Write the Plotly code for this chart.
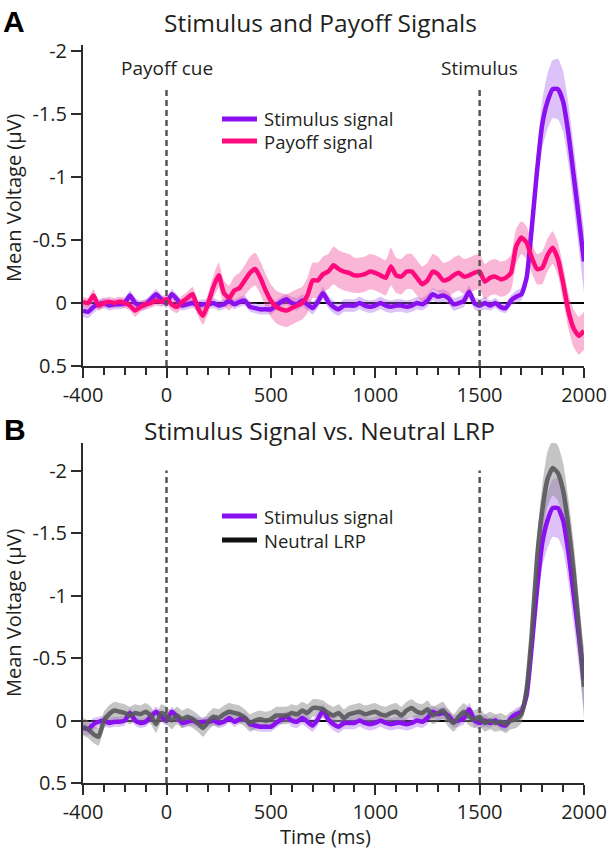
import plotly.graph_objects as go

# ---------------- data ----------------
time_ms = list(range(-400, 2001, 25))

stimulus_signal = [
    0.06, 0.07, 0.03, 0.01, 0.00, 0.02, 0.01, 0.01,
    0.00, -0.06, 0.00, 0.02, 0.01, -0.03, -0.07, -0.03,
    0.00, -0.07, -0.03, 0.02, 0.01, 0.00, 0.02, 0.01,
    0.01, 0.00, 0.02, 0.01, -0.02, 0.01, -0.01, -0.02,
    0.03, 0.04, 0.05, 0.05, 0.05, 0.02, -0.01, -0.03,
    0.00, 0.01, -0.02, 0.01, 0.04, -0.01, -0.08, -0.01,
    0.03, 0.05, 0.02, 0.02, 0.02, 0.00, 0.02, 0.03,
    0.02, 0.00, 0.02, 0.03, 0.02, 0.02, 0.03, 0.02,
    0.00, 0.01, -0.02, -0.07, -0.05, -0.06, -0.04, 0.01,
    0.00, -0.02, -0.09, 0.00, 0.02, 0.00, 0.02, 0.00,
    0.03, 0.04, -0.02, -0.05, -0.07, -0.20, -0.60, -1.05,
    -1.42, -1.60, -1.70, -1.70, -1.60, -1.35, -1.02, -0.68,
    -0.33,
]
stimulus_se = [
    0.05, 0.05, 0.05, 0.04, 0.04, 0.04, 0.04, 0.04,
    0.04, 0.04, 0.04, 0.04, 0.04, 0.04, 0.04, 0.04,
    0.04, 0.04, 0.04, 0.04, 0.04, 0.04, 0.04, 0.04,
    0.04, 0.04, 0.04, 0.04, 0.04, 0.04, 0.04, 0.04,
    0.04, 0.04, 0.04, 0.04, 0.04, 0.04, 0.04, 0.04,
    0.05, 0.05, 0.05, 0.05, 0.05, 0.05, 0.05, 0.05,
    0.05, 0.05, 0.05, 0.05, 0.05, 0.05, 0.05, 0.05,
    0.05, 0.05, 0.05, 0.05, 0.05, 0.05, 0.05, 0.05,
    0.05, 0.05, 0.05, 0.05, 0.05, 0.05, 0.05, 0.05,
    0.05, 0.05, 0.05, 0.05, 0.05, 0.05, 0.04, 0.04,
    0.04, 0.04, 0.04, 0.05, 0.05, 0.07, 0.10, 0.15,
    0.19, 0.22, 0.23, 0.24, 0.24, 0.24, 0.24, 0.24,
    0.25,
]
payoff_signal = [
    -0.01, 0.00, -0.06, 0.02, 0.00, -0.01, 0.00, -0.01,
    0.00, 0.02, 0.06, 0.03, 0.01, 0.00, -0.02, -0.01,
    -0.03, 0.01, 0.03, -0.01, -0.04, -0.07, 0.04, 0.10,
    0.00, -0.13, -0.22, -0.08, -0.04, -0.10, -0.12, -0.18,
    -0.24, -0.27, -0.20, -0.10, -0.02, 0.03, 0.05, 0.06,
    0.04, 0.02, 0.00, -0.06, -0.18, -0.18, -0.23, -0.25,
    -0.30, -0.27, -0.25, -0.24, -0.22, -0.22, -0.23, -0.25,
    -0.24, -0.22, -0.20, -0.29, -0.22, -0.21, -0.25, -0.25,
    -0.20, -0.15, -0.18, -0.25, -0.23, -0.18, -0.19, -0.22,
    -0.24, -0.21, -0.22, -0.24, -0.25, -0.17, -0.20, -0.21,
    -0.19, -0.20, -0.24, -0.45, -0.52, -0.48, -0.36, -0.27,
    -0.28, -0.38, -0.44, -0.35, -0.16, 0.06, 0.20, 0.26,
    0.22,
]
payoff_se = [
    0.04, 0.04, 0.05, 0.04, 0.04, 0.04, 0.04, 0.04,
    0.04, 0.04, 0.05, 0.04, 0.04, 0.04, 0.04, 0.04,
    0.04, 0.05, 0.05, 0.05, 0.05, 0.06, 0.06, 0.07,
    0.08, 0.09, 0.10, 0.10, 0.10, 0.11, 0.12, 0.12,
    0.13, 0.13, 0.13, 0.13, 0.13, 0.13, 0.13, 0.13,
    0.13, 0.13, 0.13, 0.14, 0.14, 0.14, 0.14, 0.14,
    0.15, 0.15, 0.15, 0.15, 0.14, 0.14, 0.14, 0.14,
    0.14, 0.14, 0.14, 0.15, 0.14, 0.14, 0.14, 0.14,
    0.14, 0.14, 0.14, 0.14, 0.14, 0.14, 0.14, 0.14,
    0.14, 0.14, 0.14, 0.14, 0.14, 0.14, 0.14, 0.14,
    0.14, 0.14, 0.14, 0.14, 0.13, 0.13, 0.12, 0.12,
    0.13, 0.13, 0.13, 0.13, 0.14, 0.14, 0.15, 0.15,
    0.15,
]
neutral_lrp = [
    0.05, 0.07, 0.11, 0.13, 0.00, -0.05, -0.08, -0.07,
    -0.06, -0.04, -0.06, -0.05, -0.07, -0.04, 0.03, -0.06,
    -0.04, 0.00, -0.04, -0.01, -0.03, -0.01, 0.02, 0.06,
    0.01, -0.03, -0.02, -0.05, -0.07, -0.06, -0.05, -0.02,
    0.02, 0.00, -0.01, 0.00, -0.01, -0.04, -0.04, -0.04,
    -0.06, -0.05, -0.08, -0.06, -0.10, -0.10, -0.09, -0.06,
    -0.04, -0.06, -0.02, -0.05, -0.06, -0.07, -0.05, -0.06,
    -0.07, -0.05, -0.04, -0.06, -0.07, -0.04, -0.08, -0.10,
    -0.07, -0.06, -0.09, -0.04, -0.06, -0.08, -0.02, 0.02,
    -0.03, -0.07, -0.03, -0.01, -0.03, 0.02, 0.00, 0.02,
    0.01, 0.03, 0.00, -0.01, -0.05, -0.25, -0.70, -1.30,
    -1.68, -1.93, -2.02, -1.98, -1.84, -1.56, -1.20, -0.75,
    -0.27,
]
neutral_se = [
    0.07, 0.07, 0.07, 0.07, 0.07, 0.07, 0.07, 0.07,
    0.07, 0.07, 0.07, 0.07, 0.07, 0.07, 0.07, 0.07,
    0.07, 0.07, 0.07, 0.07, 0.07, 0.07, 0.07, 0.07,
    0.07, 0.07, 0.07, 0.07, 0.07, 0.07, 0.07, 0.07,
    0.07, 0.07, 0.07, 0.07, 0.07, 0.07, 0.07, 0.07,
    0.07, 0.07, 0.07, 0.07, 0.07, 0.07, 0.07, 0.07,
    0.07, 0.07, 0.07, 0.07, 0.07, 0.07, 0.07, 0.07,
    0.07, 0.07, 0.07, 0.07, 0.07, 0.07, 0.07, 0.07,
    0.07, 0.07, 0.07, 0.07, 0.07, 0.07, 0.07, 0.07,
    0.07, 0.07, 0.07, 0.07, 0.07, 0.07, 0.07, 0.07,
    0.07, 0.07, 0.07, 0.07, 0.07, 0.08, 0.12, 0.16,
    0.20, 0.22, 0.22, 0.22, 0.22, 0.22, 0.23, 0.24,
    0.25,
]

x_tickvals = [-400, 0, 500, 1000, 1500, 2000]
x_ticktext = ["-400", "0", "500", "1000", "1500", "2000"]
x_minorvals = list(range(-400, 2001, 100))
y_tickvals = [-2, -1.5, -1, -0.5, 0, 0.5]
y_ticktext = ["-2", "-1.5", "-1", "-0.5", "0", "0.5"]

event_times = [0, 1500]
event_labels = ["Payoff cue", "Stimulus"]

# ---------------- style ----------------
W, H = 613, 853
FONT = "Open Sans"
TXT = "#231f20"
PURPLE = "#8a10f0"
PINK = "#ff0a7d"
GRAY = "rgba(88,88,92,0.9)"
PURPLE_BAND = "rgba(170,100,240,0.40)"
PINK_BAND = "rgba(240,80,160,0.42)"
GRAY_BAND = "rgba(140,140,140,0.50)"


def px(x):
    return x / W


def py(y):
    return 1 - y / H


fig = go.Figure()


def add_band(v, se, color, xa, ya):
    upper = [a - s for a, s in zip(v, se)]
    lower = [a + s for a, s in zip(v, se)]
    fig.add_trace(go.Scatter(x=time_ms, y=upper, mode="lines", line=dict(width=0, shape="spline", smoothing=0.5),
                             hoverinfo="skip", showlegend=False, xaxis=xa, yaxis=ya))
    fig.add_trace(go.Scatter(x=time_ms, y=lower, mode="lines", line=dict(width=0, shape="spline", smoothing=0.5),
                             fill="tonexty", fillcolor=color, hoverinfo="skip", showlegend=False,
                             xaxis=xa, yaxis=ya))


def add_line(v, color, xa, ya, name):
    fig.add_trace(go.Scatter(x=time_ms, y=v, mode="lines", name=name,
                             line=dict(color=color, width=4.5, shape="spline", smoothing=0.5),
                             showlegend=False, xaxis=xa, yaxis=ya))


# Panel A
add_band(stimulus_signal, stimulus_se, PURPLE_BAND, "x", "y")
add_band(payoff_signal, payoff_se, PINK_BAND, "x", "y")
add_line(stimulus_signal, PURPLE, "x", "y", "Stimulus signal")
add_line(payoff_signal, PINK, "x", "y", "Payoff signal")

# Panel B
add_band(stimulus_signal, stimulus_se, PURPLE_BAND, "x2", "y2")
add_band(neutral_lrp, neutral_se, GRAY_BAND, "x2", "y2")
add_line(stimulus_signal, PURPLE, "x2", "y2", "Stimulus signal")
add_line(neutral_lrp, GRAY, "x2", "y2", "Neutral LRP")

xdom = [px(83), px(584)]
common_x = dict(
    domain=xdom, range=[-400, 2000], tickmode="array", tickvals=x_tickvals, ticktext=x_ticktext,
    ticks="outside", ticklen=10, tickwidth=1.5, tickcolor="#2b2b2b", automargin=False,
    showline=True, linecolor="#2b2b2b", linewidth=2, showgrid=False, zeroline=False,
    tickfont=dict(family=FONT, size=20, color=TXT),
    minor=dict(tickmode="array", tickvals=x_minorvals, ticks="outside", ticklen=7,
               tickwidth=1.5, tickcolor="#2b2b2b", showgrid=False),
)
common_y = dict(
    tickmode="array", tickvals=y_tickvals, ticktext=y_ticktext, automargin=False,
    ticks="outside", ticklen=10, tickwidth=1.5, tickcolor="#2b2b2b",
    showline=True, linecolor="#2b2b2b", linewidth=2, showgrid=False,
    zeroline=True, zerolinecolor="#000000", zerolinewidth=1.5,
    tickfont=dict(family=FONT, size=20, color=TXT),
)

fig.update_layout(
    width=W, height=H, margin=dict(l=0, r=0, t=0, b=0, autoexpand=False),
    paper_bgcolor="white", plot_bgcolor="white", showlegend=False,
    xaxis=dict(anchor="y", **common_x),
    yaxis=dict(anchor="x", domain=[py(366), py(45)], range=[0.5, -2.05], **common_y),
    xaxis2=dict(anchor="y2", **common_x),
    yaxis2=dict(anchor="x2", domain=[py(783), py(443)], range=[0.5, -2.22], **common_y),
)

# dashed event lines
for t in event_times:
    fig.add_shape(type="line", xref="x", yref="y", x0=t, x1=t, y0=0.5, y1=-1.72,
                  line=dict(color="#555555", width=2.5, dash="6px,4px"), layer="above")
    fig.add_shape(type="line", xref="x2", yref="y2", x0=t, x1=t, y0=0.5, y1=-2.0,
                  line=dict(color="#555555", width=2.5, dash="6px,4px"), layer="above")


def label(x, y, text, size, family=FONT, color=TXT, angle=0, xanchor="center"):
    fig.add_annotation(x=px(x), y=py(y), xref="paper", yref="paper", text=text, showarrow=False,
                       textangle=angle, xanchor=xanchor, yanchor="middle",
                       font=dict(family=family, size=size, color=color))


for t, lab in zip(event_times, event_labels):
    fig.add_annotation(x=t, xref="x", y=py(68), yref="paper", text=lab, showarrow=False,
                       font=dict(family=FONT, size=19, color=TXT), xanchor="center", yanchor="middle")

# panel titles
label(320, 22, "Stimulus and Payoff Signals", 24.5)
label(319, 430, "Stimulus Signal vs. Neutral LRP", 24.5)
label(14, 21, "<b>A</b>", 30, family="Liberation Sans", color="#000")
label(15, 429, "<b>B</b>", 30, family="Liberation Sans", color="#000")

# axis titles
label(13, 198, "Mean Voltage (µV)", 20, angle=-90)
label(13, 613, "Mean Voltage (µV)", 20, angle=-90)
label(326, 836, "Time (ms)", 20)

# legends
legends = [
    (119, PURPLE, "Stimulus signal"),
    (141, PINK, "Payoff signal"),
    (516, PURPLE, "Stimulus signal"),
    (540, "#111111", "Neutral LRP"),
]
for yy, col, lab in legends:
    fig.add_shape(type="line", xref="paper", yref="paper", x0=px(222), x1=px(257), y0=py(yy), y1=py(yy),
                  line=dict(color=col, width=5))
    label(262, yy, lab, 18.5, xanchor="left")

fig.write_html(
    "out.html",
    config={"displayModeBar": False},
    post_script="document.body.style.margin='0px';document.body.style.overflow='hidden';",
)
